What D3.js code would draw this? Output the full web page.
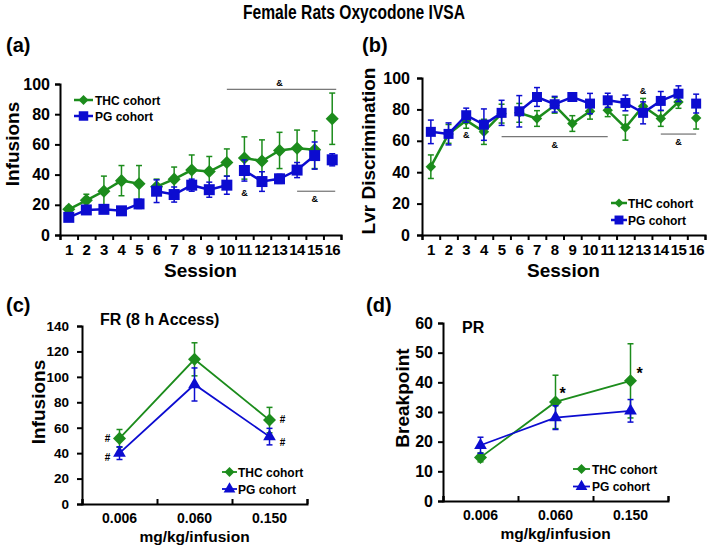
<!DOCTYPE html>
<html>
<head>
<meta charset="utf-8">
<title>Female Rats Oxycodone IVSA</title>
<script src="https://d3js.org/d3.v7.min.js"></script>
<style>
  body { margin: 0; background: #fff; }
  svg { display: block; font-family: "Liberation Sans", Arial, sans-serif; font-weight: bold; }
</style>
</head>
<body>
<svg width="709" height="546"></svg>
<script>

// ---- data ----
var sessions = d3.range(1, 17).map(String);
var breaksAfter = [5, 10, 15];   // lines are broken after these sessions

var infThc    = [17, 23, 29, 36, 34, 32, 37, 43, 42, 48, 51, 49, 56, 57.5, 56.5, 77];
var infThcSem = [2, 4, 10, 10, 12, 5, 8, 10, 10, 9, 14, 14, 12, 12, 12.5, 17];
var infPg     = [11.7, 16.6, 17, 16, 20.6, 29, 26.8, 33, 30, 33, 42.7, 35.4, 37.2, 43, 52.6, 49.8];
var infPgSem  = [2, 2, 2, 2, 3, 7.5, 5, 4, 5, 6, 7, 6.5, 3, 5, 9, 4];

var lvrThc    = [43.5, 64.4, 73, 65.7, 77.3, 77.8, 74.2, 82.6, 71, 78.8, 79.4, 68.4, 82, 74.2, 84.7, 74.5];
var lvrThcSem = [7.5, 6, 5, 8, 6, 6, 5, 5, 5, 5, 4, 8, 5, 5, 4, 7];
var lvrPg     = [65.7, 64.4, 76.3, 70.3, 77.8, 78.8, 87.9, 83.3, 87.9, 83.7, 85.8, 84.1, 77.8, 85.4, 90, 83.7];
var lvrPgSem  = [7.5, 7, 4.5, 10, 8, 10, 6, 5, 2, 6.5, 4.5, 5, 7, 6, 5, 6];

var doses = ["0.006", "0.060", "0.150"];
var frThc    = [51.6, 113.8, 66];
var frThcSem = [7, 13, 10];
var frPg     = [40, 94, 53];
var frPgSem  = [5, 13, 6.5];

var prThc    = [14.7, 33.4, 40.5];
var prThcSem = [1.5, 9, 12.5];
var prPg     = [18.8, 28.1, 30.4];
var prPgSem  = [2.7, 4, 3.8];

var GREEN = "#1c8c1c", BLUE = "#0c0cd0";

var svg = d3.select("svg");

svg.append("text").attr("x", 354).attr("y", 19).attr("text-anchor", "middle")
  .attr("font-size", 20).attr("textLength", 222).attr("lengthAdjust", "spacingAndGlyphs")
  .text("Female Rats Oxycodone IVSA");

function label(x, y, t, size, anchor) {
  return svg.append("text").attr("x", x).attr("y", y).attr("font-size", size)
    .attr("text-anchor", anchor || "start").text(t);
}
label(6, 52, "(a)", 20);
label(362, 52, "(b)", 20);
label(6, 312, "(c)", 20);
label(366, 312, "(d)", 20);

function yTitle(x, y, t) {
  svg.append("text").attr("transform", "translate(" + x + "," + y + ") rotate(-90)")
    .attr("text-anchor", "middle").attr("font-size", 19).text(t);
}

function marker(kind, size) {
  if (kind === "diamond") return { path: d3.symbol(d3.symbolSquare, size)(), rot: 45 };
  if (kind === "square") return { path: d3.symbol(d3.symbolSquare, size)(), rot: 0 };
  return { path: d3.symbol(d3.symbolTriangle, size)(), rot: 0 };
}

function drawSeries(g, xs, y, vals, sems, color, kind, msize, lw, groups) {
  var pts = vals.map(function(v, i) { return { x: xs[i], v: v, s: sems[i], grp: groups ? groups[i] : 0 }; });
  var line = d3.line().x(function(d) { return d.x; }).y(function(d) { return y(d.v); });
  d3.groups(pts, function(d) { return d.grp; }).forEach(function(gr) {
    if (gr[1].length > 1)
      g.append("path").attr("d", line(gr[1])).attr("fill", "none")
        .attr("stroke", color).attr("stroke-width", lw);
  });
  var eb = g.append("g").attr("stroke", color).attr("stroke-width", 1.5);
  pts.forEach(function(d) {
    var y1 = y(d.v + d.s), y2 = y(Math.max(0, d.v - d.s));
    eb.append("line").attr("x1", d.x).attr("x2", d.x).attr("y1", y1).attr("y2", y2);
    eb.append("line").attr("x1", d.x - 3).attr("x2", d.x + 3).attr("y1", y1).attr("y2", y1);
    eb.append("line").attr("x1", d.x - 3).attr("x2", d.x + 3).attr("y1", y2).attr("y2", y2);
  });
  var m = marker(kind, msize);
  g.selectAll(null).data(pts).enter().append("path")
    .attr("d", m.path).attr("fill", color)
    .attr("transform", function(d) { return "translate(" + d.x + "," + y(d.v) + ") rotate(" + m.rot + ")"; });
}

function legend(x0, x1, xt, y0, dy, items, lw) {
  items.forEach(function(it, i) {
    var yy = y0 + i * dy;
    svg.append("line").attr("x1", x0).attr("x2", x1).attr("y1", yy).attr("y2", yy)
      .attr("stroke", it.color).attr("stroke-width", lw);
    var m = marker(it.kind, it.size);
    svg.append("path").attr("d", m.path).attr("fill", it.color)
      .attr("transform", "translate(" + ((x0 + x1) / 2) + "," + yy + ") rotate(" + m.rot + ")");
    label(xt, yy + 4.5, it.name, 12);
  });
}

function styleAxis(g, size) {
  g.select(".domain").attr("stroke", "#000").attr("stroke-width", 2);
  g.selectAll(".tick line").attr("stroke", "#000").attr("stroke-width", 2);
  g.selectAll(".tick text").attr("font-size", size).attr("font-family", null).attr("fill", "#000");
  g.attr("font-family", null).attr("font-size", null);
}

var sessionGroups = sessions.map(function(s) {
  return d3.bisectLeft(breaksAfter, +s);
});

// ---- session panels (a) and (b) ----
function sessionPanel(o) {
  var x = d3.scaleBand().domain(sessions).range([o.x0, o.x1]);
  var xb = d3.scaleLinear().domain([0, sessions.length]).range([o.x0, o.x1]);
  var y = d3.scaleLinear().domain([0, 100]).range([o.y0, o.y1]);
  var cx = sessions.map(function(s) { return x(s) + x.bandwidth() / 2; });

  var ya = svg.append("g").attr("transform", "translate(" + o.x0 + ",0)")
    .call(d3.axisLeft(y).tickValues(d3.range(0, 101, 20)).tickSize(5).tickPadding(o.yPad));
  styleAxis(ya, 16);
  var xt = svg.append("g").attr("transform", "translate(0," + o.y0 + ")")
    .call(d3.axisBottom(xb).ticks(16).tickSize(5).tickFormat(""));
  styleAxis(xt, 15);
  var xl = svg.append("g").attr("transform", "translate(0," + o.y0 + ")")
    .call(d3.axisBottom(x).tickSize(0).tickPadding(9));
  xl.select(".domain").remove();
  styleAxis(xl, 15);
  xl.selectAll(".tick text").attr("letter-spacing", -0.6);

  label((o.x0 + o.x1) / 2, o.y0 + 42, "Session", 19, "middle");
  yTitle(o.titleX, o.titleY, o.title);

  var g = svg.append("g");
  drawSeries(g, cx, y, o.thc, o.thcSem, GREEN, "diamond", o.dSize, 2.5, sessionGroups);
  drawSeries(g, cx, y, o.pg, o.pgSem, BLUE, "square", o.sSize, 2.5, sessionGroups);

  o.marks.forEach(function(m) {
    var xc = function(i) { return x(sessions[i - 1]) + x.bandwidth() / 2; };
    if (m.to) {
      svg.append("line").attr("x1", xc(m.from)).attr("x2", xc(m.to) + (m.extra || 0))
        .attr("y1", y(m.v)).attr("y2", y(m.v)).attr("stroke", "#555").attr("stroke-width", 1);
    }
    if (m.at) label(xc(m.at), y(m.tv) + 3, "&", 9, "middle");
  });
  return { x: x, y: y };
}

sessionPanel({
  x0: 60, x1: 341, y0: 235, y1: 84, yPad: 5,
  thc: infThc, thcSem: infThcSem, pg: infPg, pgSem: infPgSem,
  dSize: 85, sSize: 121,
  title: "Infusions", titleX: 19, titleY: 144,
  marks: [
    { from: 10, to: 16, extra: 4, v: 96.5, at: 13, tv: 100.8 },
    { from: 14, to: 16, extra: 3, v: 29, at: 15, tv: 24 },
    { at: 11, tv: 28 }
  ]
});

sessionPanel({
  x0: 422, x1: 705, y0: 235, y1: 78, yPad: 7,
  thc: lvrThc, thcSem: lvrThcSem, pg: lvrPg, pgSem: lvrPgSem,
  dSize: 55, sSize: 100,
  title: "Lvr Discrimination", titleX: 375, titleY: 151,
  marks: [
    { at: 3, tv: 63.7 },
    { from: 5, to: 11, extra: 0, v: 62.6, at: 8, tv: 57.3 },
    { at: 13, tv: 91.7 },
    { from: 14, to: 16, extra: 0, v: 64.3, at: 15, tv: 59.4 }
  ]
});

legend(74, 93, 95, 100, 16, [
  { name: "THC cohort", color: GREEN, kind: "diamond", size: 50 },
  { name: "PG cohort", color: BLUE, kind: "square", size: 90 }
], 2.5);
legend(611, 627, 628, 203, 17, [
  { name: "THC cohort", color: GREEN, kind: "diamond", size: 40 },
  { name: "PG cohort", color: BLUE, kind: "square", size: 80 }
], 2.5);

// ---- dose panels (c) and (d) ----
function dosePanel(o) {
  var x = d3.scaleBand().domain(doses).range([o.x0, o.x1]);
  var xb = d3.scaleLinear().domain([0, doses.length]).range([o.x0, o.x1]);
  var y = d3.scaleLinear().domain([0, o.yMax]).range([o.y0, o.y1]);
  var cx = doses.map(function(d) { return x(d) + x.bandwidth() / 2; });

  var ya = svg.append("g").attr("transform", "translate(" + o.x0 + ",0)")
    .call(d3.axisLeft(y).tickValues(d3.range(0, o.yMax + 1, o.yStep)).tickSize(5).tickPadding(o.yPad));
  styleAxis(ya, o.yFont);
  var xt = svg.append("g").attr("transform", "translate(0," + o.y0 + ")")
    .call(d3.axisBottom(xb).ticks(3).tickSize(-5).tickFormat(""));
  styleAxis(xt, 14);
  var xl = svg.append("g").attr("transform", "translate(0," + o.y0 + ")")
    .call(d3.axisBottom(x).tickSize(0).tickPadding(o.xPad));
  xl.select(".domain").remove();
  styleAxis(xl, 14);

  label((o.x0 + o.x1) / 2, o.xTitleY, "mg/kg/infusion", 15.5, "middle");
  yTitle(o.titleX, o.titleY, o.title);
  label(o.x0 + o.subDx, o.subY, o.sub, 16);

  var g = svg.append("g");
  drawSeries(g, cx, y, o.thc, o.thcSem, GREEN, "diamond", 85, 1.8, null);
  drawSeries(g, cx, y, o.pg, o.pgSem, BLUE, "triangle", 70, 1.8, null);

  o.marks.forEach(function(m) {
    label(cx[m.i] + m.dx, y(m.v) + m.dy, m.t, m.size, "middle");
  });
}

dosePanel({
  x0: 82, x1: 307, y0: 504, y1: 326, yMax: 140, yStep: 20, yPad: 8, yFont: 13.5, xPad: 9,
  thc: frThc, thcSem: frThcSem, pg: frPg, pgSem: frPgSem,
  title: "Infusions", titleX: 45, titleY: 402, xTitleY: 542,
  sub: "FR (8 h Access)", subDx: 18, subY: 325,
  marks: [
    { i: 0, dx: -12, v: 52, dy: 4, t: "#", size: 10 },
    { i: 0, dx: -12, v: 37, dy: 4, t: "#", size: 10 },
    { i: 2, dx: 13, v: 66.9, dy: 4, t: "#", size: 10 },
    { i: 2, dx: 13, v: 49, dy: 4, t: "#", size: 10 }
  ]
});

dosePanel({
  x0: 443, x1: 668, y0: 501, y1: 323, yMax: 60, yStep: 10, yPad: 5, yFont: 16, xPad: 9,
  thc: prThc, thcSem: prThcSem, pg: prPg, pgSem: prPgSem,
  title: "Breakpoint", titleX: 409, titleY: 398, xTitleY: 539,
  sub: "PR", subDx: 19, subY: 333,
  marks: [
    { i: 1, dx: 7, v: 37.2, dy: 8, t: "*", size: 16 },
    { i: 2, dx: 9, v: 43.9, dy: 8, t: "*", size: 16 }
  ]
});

legend(222, 237, 238, 472, 17, [
  { name: "THC cohort", color: GREEN, kind: "diamond", size: 50 },
  { name: "PG cohort", color: BLUE, kind: "triangle", size: 60 }
], 1.8);
legend(573, 590, 592, 469, 17.5, [
  { name: "THC cohort", color: GREEN, kind: "diamond", size: 50 },
  { name: "PG cohort", color: BLUE, kind: "triangle", size: 60 }
], 1.8);

</script>
</body>
</html>
